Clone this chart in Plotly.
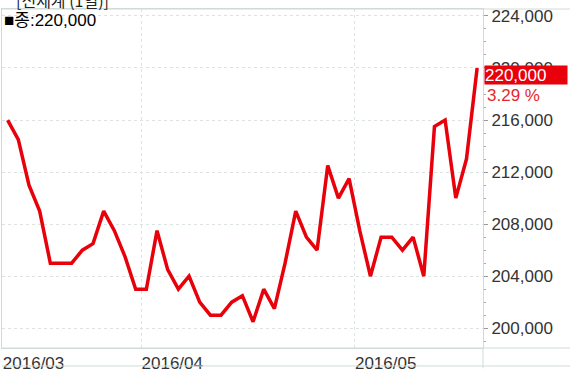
import plotly.graph_objects as go

# ---- data ----
dates = [
    "2016-03-15", "2016-03-16", "2016-03-17", "2016-03-18", "2016-03-21", "2016-03-22",
    "2016-03-23", "2016-03-24", "2016-03-25", "2016-03-28", "2016-03-29", "2016-03-30",
    "2016-03-31",
    "2016-04-01", "2016-04-04", "2016-04-05", "2016-04-06", "2016-04-07", "2016-04-08",
    "2016-04-11", "2016-04-12", "2016-04-14", "2016-04-15", "2016-04-18", "2016-04-19",
    "2016-04-20", "2016-04-21", "2016-04-22", "2016-04-25", "2016-04-26", "2016-04-27",
    "2016-04-28", "2016-04-29",
    "2016-05-02", "2016-05-03", "2016-05-04", "2016-05-09", "2016-05-10", "2016-05-11",
    "2016-05-12", "2016-05-13", "2016-05-16", "2016-05-17", "2016-05-18", "2016-05-19",
]
close_prices = [
    216000, 214500, 211000, 209000, 205000, 205000, 205000, 206000, 206500, 209000,
    207500, 205500, 203000, 203000, 207500, 204500, 203000, 204000, 202000, 201000,
    201000, 202000, 202500, 200500, 203000, 201500, 205000, 209000, 207000, 206000,
    212500, 210000, 211500, 207500, 204000, 207000, 207000, 206000, 207000, 204000,
    215500, 216000, 210000, 213000, 220000,
]
y_ticks = [200000, 204000, 208000, 212000, 216000, 220000, 224000]
title_text = "[신세계 (1일)]"
series_label = "종"

# ---- derived ----
idx = list(range(len(dates)))
month_pos, month_txt = [], []
prev = None
for i, d in enumerate(dates):
    m = d[:7]
    if m != prev:
        month_pos.append(i - 0.5)
        month_txt.append(m.replace("-", "/"))
        prev = m
last = close_prices[-1]
pct = (close_prices[-1] / close_prices[-2] - 1) * 100

RED = "#e8000b"
BORDER = "#cfdcd6"
GRID = "#dde2e2"
AXFONT = dict(family="Liberation Sans, Arial, sans-serif", size=17, color="#333333")

fig = go.Figure()
fig.add_trace(go.Scatter(
    x=idx, y=close_prices, mode="lines",
    line=dict(color=RED, width=3.5),
    customdata=dates, hovertemplate="%{customdata}: %{y:,}<extra></extra>",
    showlegend=False,
))

fig.update_layout(
    width=570, height=374,
    margin=dict(l=1, r=87, t=9, b=19),
    paper_bgcolor="white", plot_bgcolor="white",
    showlegend=False,
    xaxis=dict(
        range=[-0.53, 44.55],
        tickmode="array", tickvals=month_pos, ticktext=month_txt,
        ticklabelposition="outside right",
        showgrid=True, gridcolor=GRID, griddash="dot", gridwidth=1,
        showline=True, linecolor=BORDER, linewidth=1, mirror=True,
        ticks="", tickfont=AXFONT, zeroline=False,
    ),
    yaxis=dict(
        side="right", range=[198480, 224534],
        tickmode="array", tickvals=y_ticks,
        ticktext=[f"{v:,}" for v in y_ticks],
        showgrid=True, gridcolor=GRID, griddash="dot", gridwidth=1,
        showline=True, linecolor=BORDER, linewidth=1, mirror=True,
        ticks="outside", ticklen=4, tickcolor="#999999", tickwidth=1,
        minor=dict(dtick=1000, ticks="outside", ticklen=2, tickcolor="#aaaaaa", showgrid=False),
        tickfont=AXFONT, zeroline=False,
    ),
)

# extended panel separator lines
for s in [
    dict(x0=0, x1=1.2, y0=1, y1=1),
    dict(x0=0, x1=1.2, y0=0, y1=0),
    dict(x0=1, x1=1, y0=0, y1=-0.06),
    dict(x0=0, x1=1.2, y0=-0.053, y1=-0.053),
]:
    fig.add_shape(type="line", xref="paper", yref="paper", line=dict(color=BORDER, width=1), **s)

fig.add_annotation(
    xref="paper", yref="paper", x=0, y=1, xanchor="left", yanchor="middle",
    xshift=12, yshift=9, text=title_text, showarrow=False,
    font=dict(family="Noto Sans CJK KR", size=16, color="#222222"),
)
fig.add_annotation(
    xref="paper", yref="paper", x=0, y=1, xanchor="left", yanchor="middle",
    xshift=0, yshift=-11,
    text=f"■{series_label}:{last:,}", showarrow=False,
    font=dict(family="Liberation Sans, Noto Sans CJK KR", size=17, color="#000000"),
)
fig.add_annotation(
    xref="paper", yref="y", x=1, y=last, xanchor="left", yanchor="middle",
    xshift=1, yshift=-7, text=f"{last:,}", showarrow=False,
    bgcolor=RED, width=82, height=18, align="left", borderpad=0,
    font=dict(family="Liberation Sans, Arial, sans-serif", size=17, color="white"),
)
fig.add_annotation(
    xref="paper", yref="y", x=1, y=last, xanchor="left", yanchor="middle",
    xshift=2, yshift=-27.5, text=f"{pct:.2f} %", showarrow=False,
    font=dict(family="Liberation Sans, Arial, sans-serif", size=17, color="#e8262b"),
)

fig.write_html("out.html")
